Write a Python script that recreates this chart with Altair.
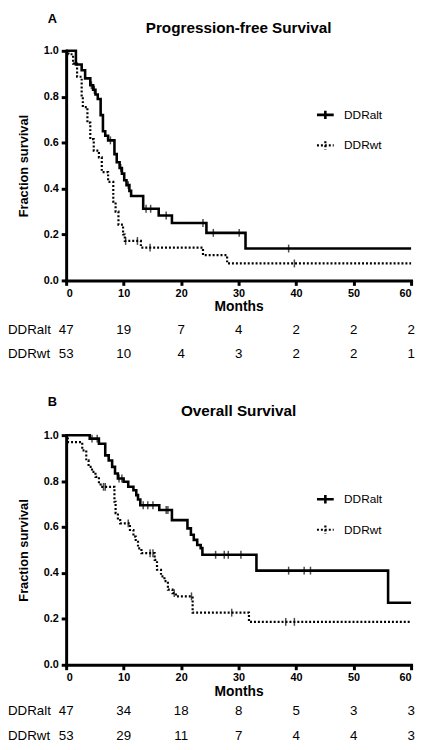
import bisect
import altair as alt
import pandas as pd

FONT = "Liberation Sans"
GROUPS = ["DDRalt", "DDRwt"]
MONTH_TICKS = [0, 10, 20, 30, 40, 50, 60]
SURV_TICKS = [0.0, 0.2, 0.4, 0.6, 0.8, 1.0]

# ---- Progression-free survival (panel A) ----
pfs_alt_t = [0, 1.7, 2.7, 3.3, 4.2, 4.7, 5.1, 5.5, 6.0, 6.4, 6.8, 7.3, 8.4, 8.8, 9.3, 9.7,
             10.1, 10.5, 11.0, 11.3, 13.4, 16.1, 18.4, 24.4, 31.2, 60]
pfs_alt_s = [1.0, 0.94, 0.915, 0.88, 0.85, 0.83, 0.81, 0.79, 0.72, 0.65, 0.63, 0.61, 0.55, 0.515,
             0.49, 0.465, 0.436, 0.415, 0.39, 0.368, 0.312, 0.283, 0.25, 0.207, 0.139, 0.139]
pfs_alt_c = [4.4, 4.9, 7.7, 9.5, 10.8, 13.9, 14.7, 17.4, 23.8, 25.6, 30.1, 38.7]

pfs_wt_t = [0, 0.4, 1.2, 1.9, 2.7, 2.9, 3.7, 4.2, 4.8, 5.7, 6.2, 7.3, 8.2, 8.6, 9.1, 9.9,
            10.2, 13.0, 23.8, 28.0, 60]
pfs_wt_s = [1.0, 0.985, 0.944, 0.887, 0.80, 0.755, 0.687, 0.615, 0.565, 0.536, 0.472, 0.429,
            0.343, 0.30, 0.243, 0.20, 0.172, 0.143, 0.110, 0.074, 0.074]
pfs_wt_c = [10.35, 12.4, 14.6, 39.7]

pfs_risk_alt = [47, 19, 7, 4, 2, 2, 2]
pfs_risk_wt = [53, 10, 4, 3, 2, 2, 1]

# ---- Overall survival (panel B) ----
os_alt_t = [0, 4.1, 5.7, 6.8, 7.4, 8.0, 8.5, 9.0, 10.0, 10.8, 11.7, 12.2, 12.5, 12.9, 16.2,
            18.4, 21.1, 21.7, 22.2, 22.8, 23.4, 23.7, 33.1, 56.0, 60]
os_alt_s = [1.0, 0.985, 0.963, 0.912, 0.89, 0.862, 0.833, 0.811, 0.797, 0.775, 0.76, 0.739,
            0.72, 0.695, 0.674, 0.63, 0.594, 0.566, 0.544, 0.522, 0.508, 0.479, 0.41, 0.27, 0.27]
os_alt_c = [4.5, 5.4, 9.2, 9.7, 13.4, 14.2, 15.1, 17.4, 17.7, 26.0, 27.5, 28.2, 30.4,
            38.7, 41.4, 42.5]

os_wt_t = [0, 0.3, 2.8, 3.5, 3.9, 4.5, 5.1, 5.7, 6.0, 8.4, 8.6, 9.0, 9.4, 11.1, 11.7, 12.1,
           12.5, 13.1, 15.4, 15.8, 16.5, 17.1, 17.7, 18.5, 19.1, 22.0, 31.8, 60]
os_wt_s = [1.0, 0.97, 0.934, 0.89, 0.862, 0.84, 0.818, 0.79, 0.775, 0.71, 0.66, 0.63, 0.616,
           0.587, 0.558, 0.536, 0.507, 0.486, 0.457, 0.414, 0.385, 0.364, 0.327, 0.312, 0.298,
           0.227, 0.187, 0.187]
os_wt_c = [6.5, 6.8, 10.8, 14.6, 15.1, 18.8, 21.8, 28.8, 38.2, 39.7]

os_risk_alt = [47, 34, 18, 8, 5, 3, 3]
os_risk_wt = [53, 29, 11, 7, 4, 4, 3]

W, H = 350, 233


def curves(alt_t, alt_s, wt_t, wt_s):
    return pd.concat([
        pd.DataFrame({"Months": alt_t, "Survival": alt_s, "Group": "DDRalt"}),
        pd.DataFrame({"Months": wt_t, "Survival": wt_s, "Group": "DDRwt"}),
    ], ignore_index=True)


def censored(c, t, s, group):
    vals = [s[bisect.bisect_right(t, m) - 1] for m in c]
    return pd.DataFrame({"Months": c, "Survival": vals, "Group": group})


def panel(letter, title, alt_t, alt_s, alt_c, wt_t, wt_s, wt_c, risk_alt, risk_wt,
          letter_y, title_y, row_y1, row_y2):
    x = alt.X("Months:Q",
              scale=alt.Scale(domain=[0, 60], nice=False, zero=False),
              axis=alt.Axis(values=MONTH_TICKS, format="d", title="Months",
                            titleFontSize=14, titlePadding=2, labelPadding=2))
    y = alt.Y("Survival:Q",
              scale=alt.Scale(domain=[0, 1], nice=False),
              axis=alt.Axis(values=SURV_TICKS, format=".1f", title="Fraction survival",
                            titleFontSize=13, titlePadding=13, labelPadding=3))

    lines = alt.Chart(curves(alt_t, alt_s, wt_t, wt_s)).mark_line(
        interpolate="step-after", color="black"
    ).encode(
        x=x, y=y,
        strokeWidth=alt.StrokeWidth(
            "Group:N", scale=alt.Scale(domain=GROUPS, range=[2.6, 2.2]), legend=None),
        strokeDash=alt.StrokeDash(
            "Group:N",
            scale=alt.Scale(domain=GROUPS, range=[[1, 0], [2, 2]]),
            legend=alt.Legend(
                title=None, orient="none", legendX=253, legendY=55,
                symbolType="M-1,0H1M0,-0.5V0.5", symbolSize=289,
                symbolStrokeWidth=2, symbolStrokeColor="black",
                symbolFillColor="transparent",
                labelFont=FONT, labelFontSize=12, labelColor="black",
                labelOffset=9, rowPadding=11, padding=0,
            ),
        ),
    )

    cens = pd.concat([censored(alt_c, alt_t, alt_s, "DDRalt"),
                      censored(wt_c, wt_t, wt_s, "DDRwt")], ignore_index=True)
    ticks = alt.Chart(cens).mark_tick(
        orient="vertical", size=8, thickness=1.5, color="black"
    ).encode(x=x, y=y)

    risk = pd.DataFrame({"Months": MONTH_TICKS * 2,
                         "n": risk_alt + risk_wt,
                         "row": ["DDRalt"] * 7 + ["DDRwt"] * 7})
    text_style = dict(font=FONT, fontSize=13.5, color="black", baseline="middle")
    row1 = alt.Chart(risk).transform_filter(alt.datum.row == "DDRalt").mark_text(
        align="center", **text_style).encode(x=x, y=alt.value(row_y1), text="n:Q")
    row2 = alt.Chart(risk).transform_filter(alt.datum.row == "DDRwt").mark_text(
        align="center", **text_style).encode(x=x, y=alt.value(row_y2), text="n:Q")

    labels = pd.DataFrame({"row": GROUPS})
    lab1 = alt.Chart(labels).transform_filter(alt.datum.row == "DDRalt").mark_text(
        align="left", **text_style).encode(x=alt.value(-59), y=alt.value(row_y1), text="row:N")
    lab2 = alt.Chart(labels).transform_filter(alt.datum.row == "DDRwt").mark_text(
        align="left", **text_style).encode(x=alt.value(-59), y=alt.value(row_y2), text="row:N")

    head = pd.DataFrame({"letter": [letter], "title": [title]})
    let = alt.Chart(head).mark_text(
        font=FONT, fontSize=13, fontWeight="bold", color="black", baseline="middle",
        align="center").encode(x=alt.value(-14), y=alt.value(letter_y), text="letter:N")
    ttl = alt.Chart(head).mark_text(
        font=FONT, fontSize=15.5, fontWeight="bold", color="black", baseline="middle",
        align="center").encode(x=alt.value(W / 2), y=alt.value(title_y), text="title:N")

    return alt.layer(lines, ticks, row1, row2, lab1, lab2, let, ttl).properties(
        width=W, height=H)


top = panel("A", "Progression-free Survival", pfs_alt_t, pfs_alt_s, pfs_alt_c,
            pfs_wt_t, pfs_wt_s, pfs_wt_c, pfs_risk_alt, pfs_risk_wt,
            letter_y=-32, title_y=-23, row_y1=283, row_y2=308)
bottom = panel("B", "Overall Survival", os_alt_t, os_alt_s, os_alt_c,
               os_wt_t, os_wt_s, os_wt_c, os_risk_alt, os_risk_wt,
               letter_y=-34, title_y=-24, row_y1=280, row_y2=305)

chart = alt.vconcat(top, bottom, spacing=157, bounds="flush").resolve_scale(
    strokeDash="independent", strokeWidth="independent"
).resolve_legend(
    strokeDash="independent"
).properties(
    padding={"left": 0, "top": 0, "right": 0, "bottom": 0}
).configure(
    font=FONT
).configure_view(
    stroke=None
).configure_axis(
    grid=False,
    domainColor="black", domainWidth=3, domainCap="square",
    tickColor="black", tickWidth=3, tickSize=5,
    labelFont=FONT, labelFontSize=11, labelFontWeight="bold", labelColor="black",
    titleFont=FONT, titleFontWeight="bold", titleColor="black",
)

chart.save("out.html", embed_options={"renderer": "svg", "actions": False})
